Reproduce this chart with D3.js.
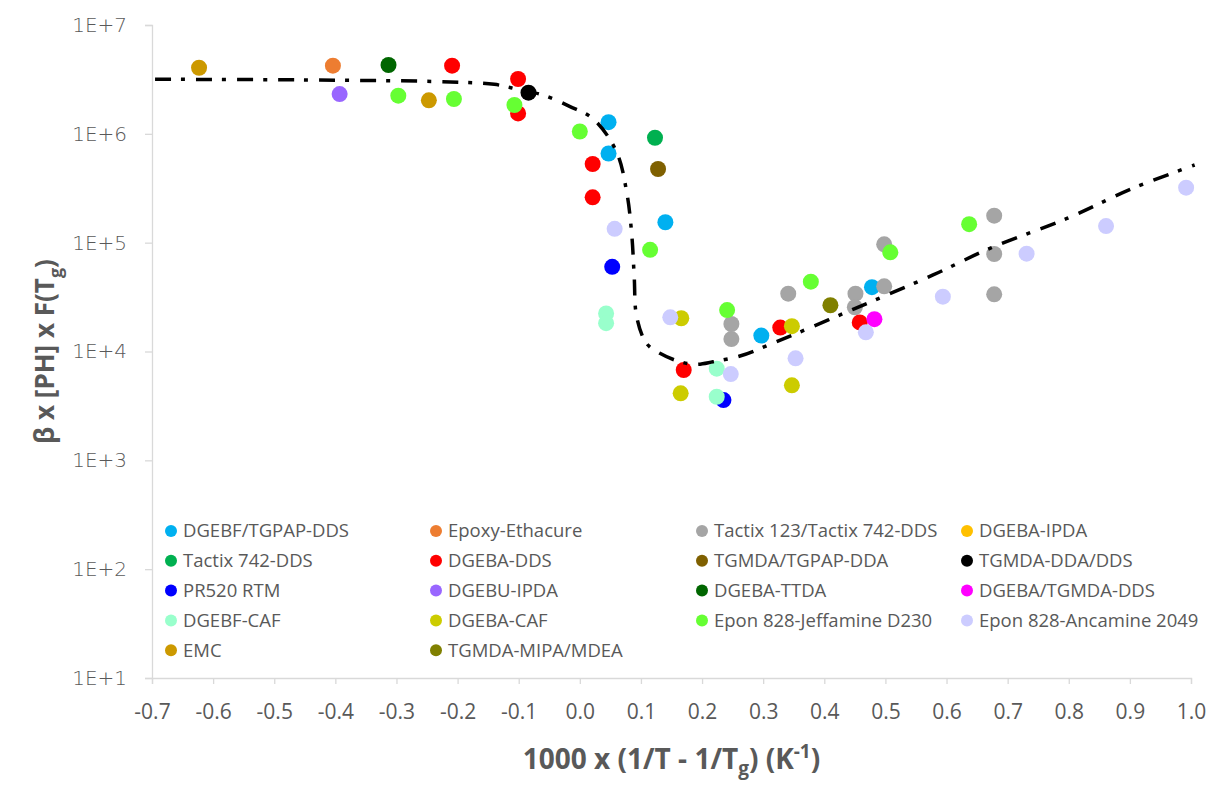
<!DOCTYPE html>
<html>
<head>
<meta charset="utf-8">
<script src="https://cdn.jsdelivr.net/npm/d3@7"></script>
<style>
	body { margin: 0; background: #fff; }
	text { font-family: "Open Sans", sans-serif; }
</style>
</head>
<body>
<div id="chart"></div>
<script>
/****************************** data ******************************************/
// [x = 1000(1/T-1/Tg), y = beta*[PH]*F(Tg)]
var dgebfTgpapDds   = [[0.047, 1.28e6], [0.047, 6.6e5], [0.140, 1.54e5], [0.297, 1.40e4], [0.478, 3.9e4]];
var epoxyEthacure   = [[-0.404, 4.23e6]];
var tactix123Dds    = [[0.248, 1.79e4], [0.248, 1.30e4], [0.341, 3.4e4], [0.451, 3.4e4], [0.450, 2.55e4],
                       [0.498, 9.66e4], [0.498, 3.97e4], [0.678, 1.77e5], [0.678, 7.87e4], [0.678, 3.35e4]];
var dgebaIpda       = [];
var tactix742Dds    = [[0.123, 9.2e5]];
var dgebaDds        = [[-0.209, 4.23e6], [-0.101, 3.19e6], [-0.101, 1.54e6], [0.021, 5.28e5], [0.021, 2.61e5],
                       [0.170, 6.76e3], [0.328, 1.66e4], [0.458, 1.85e4]];
var tgmdaTgpapDda   = [[0.128, 4.75e5]];
var tgmdaDdaDds     = [[-0.084, 2.39e6]];
var pr520Rtm        = [[0.053, 6.0e4], [0.235, 3.58e3]];
var dgebuIpda       = [[-0.393, 2.32e6]];
var dgebaTtda       = [[-0.313, 4.29e6]];
var dgebaTgmdaDds   = [[0.482, 1.98e4]];
var dgebfCaf        = [[0.043, 2.24e4], [0.043, 1.82e4], [0.224, 6.95e3], [0.224, 3.84e3]];
var dgebaCaf        = [[0.166, 2.02e4], [0.165, 4.13e3], [0.347, 1.71e4], [0.347, 4.89e3]];
var jeffamineD230   = [[-0.297, 2.24e6], [-0.206, 2.09e6], [-0.107, 1.84e6], [0.000, 1.05e6], [0.115, 8.6e4],
                       [0.241, 2.40e4], [0.378, 4.38e4], [0.508, 8.15e4], [0.637, 1.48e5]];
var ancamine2049    = [[0.057, 1.34e5], [0.148, 2.06e4], [0.247, 6.2e3], [0.353, 8.66e3], [0.468, 1.50e4],
                       [0.594, 3.19e4], [0.731, 7.92e4], [0.861, 1.42e5], [0.992, 3.2e5]];
var emc             = [[-0.623, 4.05e6], [-0.247, 2.03e6]];
var tgmdaMipaMdea   = [[0.410, 2.66e4]];

// master curve (dash-dot)
var curveX = [-0.695, -0.458, -0.212, -0.140, -0.100, -0.060, -0.016, 0.022, 0.060, 0.077, 0.085, 0.089,
              0.093, 0.109, 0.131, 0.164, 0.191, 0.218, 0.262, 0.322, 0.447, 0.578, 0.671, 0.797, 0.905, 1.006];
var curveY = [3.17e6, 3.13e6, 3.0e6, 2.85e6, 2.55e6, 2.27e6, 1.78e6, 1.37e6, 6.85e5, 2.84e5, 1.18e5, 4.87e4,
              2.09e4, 1.19e4, 9.62e3, 8.05e3, 7.63e3, 8.05e3, 9.09e3, 1.23e4, 2.44e4, 5.05e4, 8.87e4, 1.67e5, 3.16e5, 5.17e5];

var seriesNames = ["DGEBF/TGPAP-DDS", "Epoxy-Ethacure", "Tactix 123/Tactix 742-DDS", "DGEBA-IPDA",
                   "Tactix 742-DDS", "DGEBA-DDS", "TGMDA/TGPAP-DDA", "TGMDA-DDA/DDS",
                   "PR520 RTM", "DGEBU-IPDA", "DGEBA-TTDA", "DGEBA/TGMDA-DDS",
                   "DGEBF-CAF", "DGEBA-CAF", "Epon 828-Jeffamine D230", "Epon 828-Ancamine 2049",
                   "EMC", "TGMDA-MIPA/MDEA"];
var seriesData = [dgebfTgpapDds, epoxyEthacure, tactix123Dds, dgebaIpda,
                  tactix742Dds, dgebaDds, tgmdaTgpapDda, tgmdaDdaDds,
                  pr520Rtm, dgebuIpda, dgebaTtda, dgebaTgmdaDds,
                  dgebfCaf, dgebaCaf, jeffamineD230, ancamine2049,
                  emc, tgmdaMipaMdea];
var seriesColors = ["#00b0f0", "#ed7d31", "#a5a5a5", "#ffc000",
                    "#00b050", "#ff0000", "#7f6000", "#000000",
                    "#0000ff", "#9966ff", "#006600", "#ff00ff",
                    "#99ffcc", "#cccc00", "#66ff33", "#ccccff",
                    "#cc9900", "#808000"];

var xTicks = d3.range(-7, 11).map(function(i){ return i / 10; });
var yTicks = [1e1, 1e2, 1e3, 1e4, 1e5, 1e6, 1e7];

/****************************** draw ******************************************/
var width = 1211,
	height = 787,
	mLeft = 152, mRight = 1191, mTop = 25, mBottom = 678;

var svg = d3.select("#chart").append("svg")
	.attr("width", width)
	.attr("height", height)
	.style("background-color", "white");

var x = d3.scaleLinear().domain([-0.7, 1.0]).range([mLeft, mRight]);
var y = d3.scaleLog().domain([1e1, 1e7]).range([mBottom, mTop]);

var axisColor = "#d9d9d9", textColor = "#595959";

// x axis
var gx = svg.append("g")
	.attr("transform", "translate(0," + mBottom + ")")
	.call(d3.axisBottom(x).tickValues(xTicks).tickSize(6).tickPadding(20)
		.tickFormat(function(d){ return d.toFixed(1); }));
gx.select(".domain").attr("stroke", axisColor).attr("stroke-width", 1.3);
gx.selectAll(".tick line").attr("stroke", axisColor).attr("stroke-width", 1.3);
gx.selectAll(".tick text")
	.attr("fill", textColor)
	.style("font-size", "21px")
	.style("font-family", "'Open Sans', sans-serif");

// y axis
var gy = svg.append("g")
	.attr("transform", "translate(" + mLeft + ",0)")
	.call(d3.axisLeft(y).tickValues(yTicks).tickSize(7).tickPadding(18)
		.tickFormat(function(d){ return "1E+" + Math.round(Math.log10(d)); }));
gy.select(".domain").attr("stroke", axisColor).attr("stroke-width", 1.3);
gy.selectAll(".tick line").attr("stroke", axisColor).attr("stroke-width", 1.3);
gy.selectAll(".tick text")
	.attr("fill", textColor)
	.style("font-size", "20px")
	.style("font-family", "'DejaVu Sans', sans-serif")
	.style("font-weight", "200");

// points
var ng = svg.append("g");
seriesData.forEach(function(pts, i){
	ng.selectAll(".s" + i)
		.data(pts)
		.enter().append("circle")
		.attr("class", "s" + i)
		.attr("cx", function(d){ return x(d[0]); })
		.attr("cy", function(d){ return y(d[1]); })
		.attr("r", 8)
		.style("fill", seriesColors[i]);
});

// master curve on top
var line = d3.line()
	.x(function(d){ return x(d[0]); })
	.y(function(d){ return y(d[1]); })
	.curve(d3.curveCatmullRom.alpha(0.5));

svg.append("path")
	.datum(curveX.map(function(v, i){ return [v, curveY[i]]; }))
	.attr("d", line)
	.style("fill", "none")
	.style("stroke", "#000")
	.style("stroke-width", 3.5)
	.style("stroke-dasharray", "16,10,4,11");

// legend
var legCols = [171, 436, 702, 967],
	legTop = 531, legRow = 29.8;
var leg = svg.append("g").selectAll(".leg")
	.data(seriesNames)
	.enter().append("g")
	.attr("class", "leg")
	.attr("transform", function(d, i){
		return "translate(" + legCols[i % 4] + "," + (legTop + Math.floor(i / 4) * legRow) + ")";
	});
leg.append("circle")
	.attr("r", 6)
	.style("fill", function(d, i){ return seriesColors[i]; });
leg.append("text")
	.attr("x", 12)
	.attr("dy", "0.35em")
	.attr("fill", textColor)
	.style("font-size", "18.5px")
	.text(function(d){ return d; });

// axis titles
var xt = svg.append("text")
	.attr("x", (mLeft + mRight) / 2)
	.attr("y", 769)
	.attr("text-anchor", "middle")
	.attr("fill", textColor)
	.style("font-size", "28px")
	.style("font-weight", "bold");
xt.append("tspan").text("1000 x (1/T - 1/T");
xt.append("tspan").attr("dy", 6).style("font-size", "19px").text("g");
xt.append("tspan").attr("dy", -6).text(") (K");
xt.append("tspan").attr("dy", -11).style("font-size", "19px").text("-1");
xt.append("tspan").attr("dy", 11).text(")");

var yt = svg.append("text")
	.attr("transform", "translate(54," + ((mTop + mBottom) / 2) + ") rotate(-90)")
	.attr("text-anchor", "middle")
	.attr("fill", textColor)
	.style("font-size", "26px")
	.style("font-weight", "bold");
yt.append("tspan").text("β x [PH] x F(T");
yt.append("tspan").attr("dy", 8).style("font-size", "18px").text("g");
yt.append("tspan").attr("dy", -8).text(")");
</script>
</body>
</html>
